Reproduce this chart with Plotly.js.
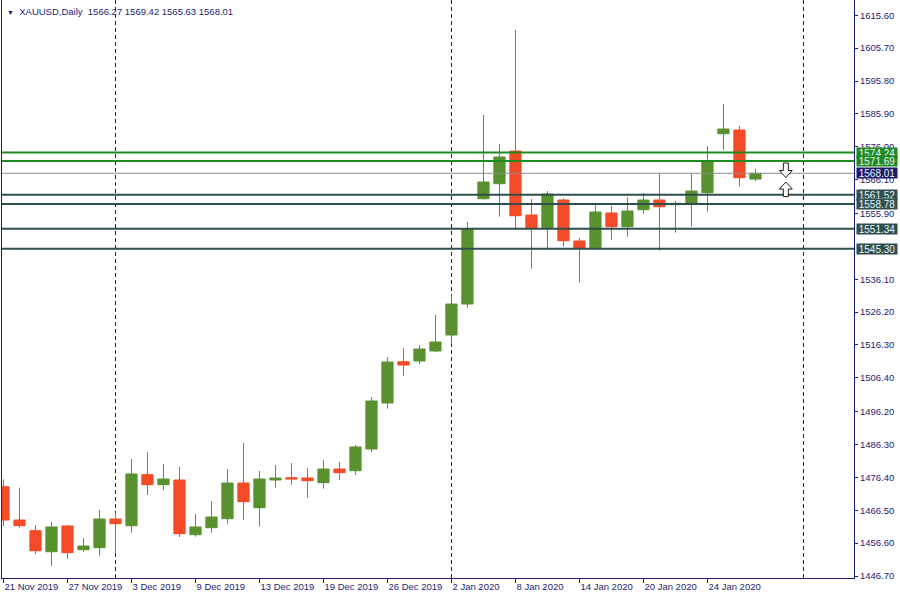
<!DOCTYPE html>
<html><head><meta charset="utf-8">
<script src="https://cdn.plot.ly/plotly-3.0.1.min.js"></script>
<style>html,body{margin:0;padding:0;background:#fff}#chart{width:900px;height:600px}</style>
</head><body><div id="chart"></div>
<script>
const dates = ['21 Nov 2019','22 Nov 2019','25 Nov 2019','26 Nov 2019','27 Nov 2019','28 Nov 2019','29 Nov 2019',
  '2 Dec 2019','3 Dec 2019','4 Dec 2019','5 Dec 2019','6 Dec 2019','9 Dec 2019','10 Dec 2019','11 Dec 2019','12 Dec 2019','13 Dec 2019',
  '16 Dec 2019','17 Dec 2019','18 Dec 2019','19 Dec 2019','20 Dec 2019','23 Dec 2019','24 Dec 2019','26 Dec 2019','27 Dec 2019','30 Dec 2019','31 Dec 2019',
  '2 Jan 2020','3 Jan 2020','6 Jan 2020','7 Jan 2020','8 Jan 2020','9 Jan 2020','10 Jan 2020','13 Jan 2020','14 Jan 2020','15 Jan 2020','16 Jan 2020','17 Jan 2020',
  '20 Jan 2020','21 Jan 2020','22 Jan 2020','23 Jan 2020','24 Jan 2020','27 Jan 2020','28 Jan 2020','29 Jan 2020'];
const openP  = [1473.60,1463.57,1460.35,1454.02,1461.76,1454.62,1455.23,1463.87,1461.85,1477.22,1474.20,1475.62,1459.14,1461.25,1463.96,1474.71,1467.27,
  1475.62,1476.31,1476.22,1474.81,1478.93,1478.42,1484.96,1498.81,1511.25,1511.46,1514.48,
  1519.30,1528.63,1560.35,1564.87,1574.72,1555.44,1551.62,1559.96,1547.61,1545.50,1556.05,1551.92,
  1557.04,1559.96,1558.55,1559.06,1562.16,1579.93,1581.05,1566.27];
const highP  = [1475.83,1473.30,1462.06,1462.97,1462.06,1458.15,1466.58,1465.77,1481.94,1484.05,1480.44,1479.62,1465.38,1469.29,1478.93,1486.76,1478.33,
  1480.14,1480.74,1479.23,1481.64,1481.04,1486.16,1500.62,1512.67,1515.38,1516.28,1525.32,
  1531.35,1553.34,1585.57,1576.83,1611.17,1560.26,1562.67,1560.47,1548.52,1558.46,1558.16,1560.87,
  1562.07,1567.89,1559.66,1567.89,1576.23,1588.88,1582.25,1569.42];
const lowP   = [1461.76,1461.25,1453.33,1449.71,1451.91,1454.02,1452.82,1453.72,1459.74,1471.10,1472.60,1458.45,1458.54,1459.74,1462.45,1463.57,1461.55,
  1473.30,1474.20,1470.29,1473.00,1475.62,1477.12,1484.05,1497.10,1506.95,1510.56,1514.20,
  1516.59,1527.52,1560.10,1554.93,1550.93,1539.27,1545.20,1545.90,1535.05,1545.20,1547.91,1548.91,
  1555.84,1544.69,1550.11,1551.92,1556.44,1575.02,1563.97,1565.63];
const closeP = [1463.57,1461.85,1454.32,1461.46,1453.72,1455.74,1463.87,1462.45,1477.43,1474.20,1475.92,1459.44,1461.46,1464.47,1474.71,1469.08,1475.92,
  1476.22,1475.92,1475.41,1478.93,1477.82,1485.56,1499.42,1511.16,1510.26,1515.08,1517.19,
  1528.63,1551.23,1565.39,1572.92,1555.23,1551.62,1561.77,1547.70,1545.50,1556.35,1551.92,1556.65,
  1559.96,1557.94,1558.97,1562.67,1571.50,1581.35,1566.68,1568.01];
const futureDates = ['30 Jan 2020','31 Jan 2020','3 Feb 2020'];
const labelDates = ['21 Nov 2019','27 Nov 2019','3 Dec 2019','9 Dec 2019','13 Dec 2019','19 Dec 2019','26 Dec 2019','2 Jan 2020','8 Jan 2020','14 Jan 2020','20 Jan 2020','24 Jan 2020'];
const separatorDates = ['2 Dec 2019','2 Jan 2020','3 Feb 2020'];
const priceTicks = [1615.60,1605.70,1595.80,1585.90,1576.00,1566.10,1555.90,1536.10,1526.20,1516.30,1506.40,1496.20,1486.30,1476.40,1466.50,1456.60,1446.70];
const levelPrices = [1574.24,1571.69,1561.52,1558.78,1551.34,1545.30];
const levelColors = ['#1f8a1f','#1f8a1f','#2f4f4f','#2f4f4f','#2f4f4f','#2f4f4f'];
const bidPrice = 1568.01;
const headerText = 'XAUUSD,Daily  1566.27 1569.42 1565.63 1568.01';
const arrowDirections = ['down', 'up'];
const arrowPrices = [1569.0, 1563.1];
const arrowIndex = [48.9, 48.9];

const allDates = dates.concat(futureDates);
const xIdx = dates.map((d, i) => i);
const NAVY = '#1c1c72';
const FONT = 'Liberation Sans, Arial, sans-serif';

const trace = {
  type: 'candlestick',
  x: xIdx, open: openP, high: highP, low: lowP, close: closeP,
  increasing: {line: {color: '#5a912f', width: 1}, fillcolor: '#5a912f'},
  decreasing: {line: {color: '#f24b25', width: 1}, fillcolor: '#f24b25'},
  whiskerwidth: 0,
  hoverinfo: 'none',
  showlegend: false
};

const shapes = [];
separatorDates.forEach(d => {
  const i = allDates.indexOf(d);
  shapes.push({type: 'line', xref: 'x', yref: 'paper', x0: i, x1: i, y0: 0, y1: 1,
    line: {color: '#1a1a5a', width: 1, dash: '4px,3px'}, layer: 'below'});
});
levelPrices.forEach((p, k) => {
  shapes.push({type: 'line', xref: 'paper', yref: 'y', x0: 0, x1: 1, y0: p, y1: p,
    line: {color: levelColors[k], width: 2}, layer: 'above'});
});
shapes.push({type: 'line', xref: 'paper', yref: 'y', x0: 0, x1: 1, y0: bidPrice, y1: bidPrice,
  line: {color: '#8a8f96', width: 1}, layer: 'above'});

// hollow block-arrow glyph outline (pixel units relative to its anchor, +y upward)
const downArrowPath = 'M -2.5,7 L 2.5,7 L 2.5,-0.5 L 6.5,-0.5 L 0,-7.5 L -6.5,-0.5 L -2.5,-0.5 Z';
const upArrowPath = 'M -2.5,-7 L 2.5,-7 L 2.5,0.5 L 6.5,0.5 L 0,7.5 L -6.5,0.5 L -2.5,0.5 Z';
arrowDirections.forEach((dir, k) => {
  shapes.push({type: 'path', xref: 'x', yref: 'y', xsizemode: 'pixel', ysizemode: 'pixel',
    xanchor: arrowIndex[k], yanchor: arrowPrices[k],
    path: dir === 'down' ? downArrowPath : upArrowPath,
    fillcolor: '#ffffff', line: {color: '#2b1d14', width: 1}, layer: 'above'});
});

const annotations = [];
const labelList = levelPrices.map((p, k) => ({p: p, c: levelColors[k]}));
labelList.splice(2, 0, {p: bidPrice, c: '#1b1b6b'});
labelList.forEach(o => {
  annotations.push({xref: 'paper', yref: 'y', x: 1, y: o.p, xanchor: 'left', yanchor: 'middle', xshift: 2,
    text: o.p.toFixed(2), showarrow: false, bgcolor: o.c, width: 40, height: 10, borderpad: 0,
    font: {family: FONT, size: 10, color: '#e8f4ff'}, align: 'center'});
});
annotations.push({xref: 'paper', yref: 'paper', x: 0, y: 1, xanchor: 'left', yanchor: 'top', xshift: 3, yshift: -4,
  text: '<span style="font-size:7px">\u25BC</span>  ' + headerText, showarrow: false,
  font: {family: FONT, size: 9.5, color: NAVY}});

const layout = {
  width: 900, height: 600,
  margin: {l: 2, r: 46, t: 0, b: 22, pad: 0},
  paper_bgcolor: '#ffffff', plot_bgcolor: '#ffffff',
  showlegend: false,
  boxgap: 0.3, boxgroupgap: 0,
  xaxis: {
    type: 'linear', range: [-0.094, 53.16], fixedrange: true,
    showgrid: false, zeroline: false,
    showline: true, linecolor: NAVY, linewidth: 1,
    ticks: 'outside', ticklen: 4, tickcolor: NAVY, tickwidth: 1,
    tickvals: labelDates.map(d => allDates.indexOf(d)), ticktext: labelDates,
    ticklabelposition: 'outside right',
    tickfont: {family: FONT, size: 9.5, color: NAVY},
    rangeslider: {visible: false}
  },
  yaxis: {
    side: 'right', range: [1446.10, 1620.21], fixedrange: true,
    showgrid: false, zeroline: false,
    showline: true, mirror: true, linecolor: NAVY, linewidth: 1,
    ticks: 'outside', ticklen: 3, tickcolor: NAVY, tickwidth: 1,
    tickvals: priceTicks, ticktext: priceTicks.map(v => v.toFixed(2)),
    tickfont: {family: FONT, size: 9.5, color: NAVY}
  },
  shapes: shapes,
  annotations: annotations
};

Plotly.newPlot('chart', [trace], layout, {staticPlot: true, displayModeBar: false});
</script>
</body></html>
